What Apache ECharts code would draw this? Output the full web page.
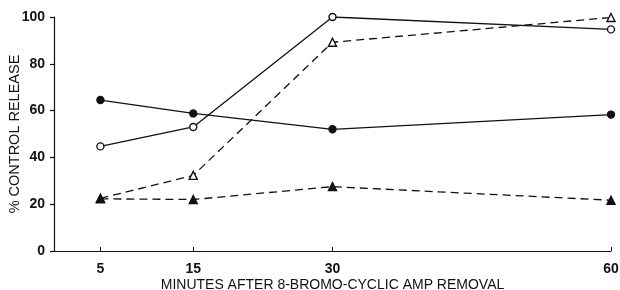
<!DOCTYPE html>
<html>
<head>
<meta charset="utf-8">
<script src="https://cdn.jsdelivr.net/npm/echarts@6/dist/echarts.min.js"></script>
<style>
    html, body { margin: 0; padding: 0; background: #fff; }
    #chart { width: 620px; height: 290px; }
</style>
</head>
<body>
<div id="chart"></div>
<script>
// minutes after removal
const minutes = [5, 15, 30, 60];
const xTicks = [5, 15, 30, 60];
const yTicks = [0, 20, 40, 60, 80, 100];

// % control release
const filledCircle = [64.5, 58.8, 52, 58.3];
const openCircle = [44.7, 53, 100, 94.7];
const openTriangle = [22.5, 32.3, 89.2, 99.8];
const filledTriangle = [22.3, 22, 27.5, 21.7];

const fontFam = '"Liberation Sans", Arial, sans-serif';

const pairs = arr => minutes.map((m, i) => [m, arr[i]]);

const myChart = echarts.init(document.getElementById('chart'));

const lineSeries = (data, symbol, filled, dashed) => ({
    type: 'line',
    data: pairs(data),
    symbol: symbol,
    symbolSize: symbol === 'circle' ? 7 : 8,
    showSymbol: true,
    lineStyle: {
        color: '#111',
        width: 1.3,
        type: dashed ? [8, 5] : 'solid'
    },
    itemStyle: {
        color: filled ? '#111' : '#fff',
        borderColor: '#111',
        borderWidth: 1.4
    },
    animation: false,
    z: 3
});

const option = {
    backgroundColor: '#fff',
    grid: {
        left: 54,
        right: 9,
        top: 17,
        bottom: 39,
        containLabel: false,
        outerBoundsMode: 'none'
    },
    xAxis: {
        type: 'value',
        min: 0,
        max: 60,
        name: 'MINUTES AFTER 8-BROMO-CYCLIC AMP REMOVAL',
        nameLocation: 'middle',
        nameGap: 27,
        nameMoveOverlap: false,
        nameTextStyle: {
            color: '#111',
            fontFamily: fontFam,
            fontSize: 14
        },
        axisLine: { show: true, lineStyle: { color: '#111', width: 1.2 } },
        axisTick: {
            show: true,
            inside: true,
            length: 4,
            customValues: xTicks,
            lineStyle: { color: '#111' }
        },
        axisLabel: {
            customValues: xTicks,
            color: '#111',
            fontFamily: fontFam,
            fontSize: 14,
            fontWeight: 'bold',
            margin: 11
        },
        splitLine: { show: false }
    },
    yAxis: {
        type: 'value',
        min: 0,
        max: 100,
        interval: 20,
        name: '% CONTROL RELEASE',
        nameLocation: 'middle',
        nameGap: 32,
        nameMoveOverlap: false,
        nameRotate: 90,
        nameTextStyle: {
            color: '#111',
            fontFamily: fontFam,
            fontSize: 14.5
        },
        axisLine: { show: true, lineStyle: { color: '#111', width: 1.2 } },
        axisTick: {
            show: true,
            length: 4,
            lineStyle: { color: '#111', width: 1.2 }
        },
        axisLabel: {
            color: '#111',
            fontFamily: fontFam,
            fontSize: 14,
            fontWeight: 'bold',
            margin: 9,
            formatter: v => (yTicks.includes(v) ? String(v) : '')
        },
        splitLine: { show: false }
    },
    series: [
        lineSeries(filledCircle, 'circle', true, false),
        lineSeries(openCircle, 'circle', false, false),
        lineSeries(openTriangle, 'triangle', false, true),
        lineSeries(filledTriangle, 'triangle', true, true)
    ]
};

myChart.setOption(option);
</script>
</body>
</html>
